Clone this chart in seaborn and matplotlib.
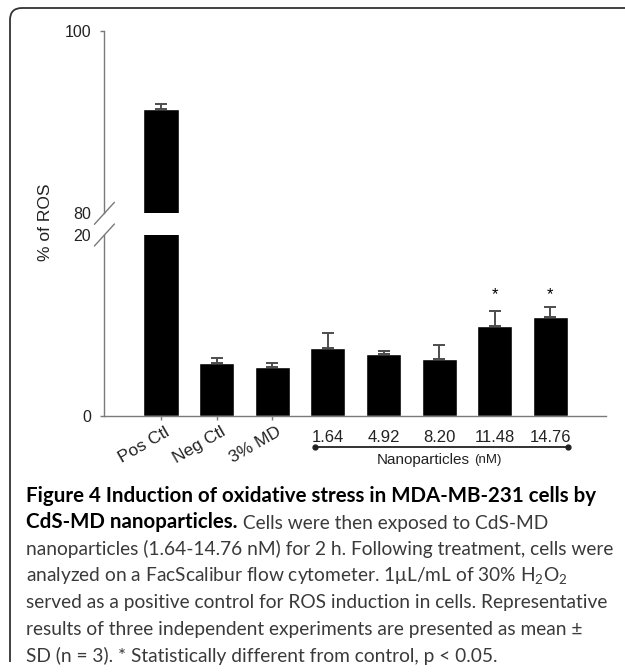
import matplotlib
matplotlib.use('Agg')
import numpy as np
import pandas as pd
import matplotlib.pyplot as plt
import matplotlib.transforms as mtrans
from matplotlib.lines import Line2D
from matplotlib.path import Path
from matplotlib.patches import PathPatch
from matplotlib.text import Annotation
import seaborn as sns

# data
groups = ['Pos Ctl', 'Neg Ctl', '3% MD', '1.64', '4.92', '8.20', '11.48', '14.76']
ros_mean = [91.4, 5.82, 5.38, 7.48, 6.85, 6.33, 9.94, 10.9]
ros_sd = [0.55, 0.55, 0.51, 1.65, 0.37, 1.55, 1.7, 1.1]
significant = ['11.48', '14.76']
nano_groups = ['1.64', '4.92', '8.20', '11.48', '14.76']

sns.set_theme(style='white')
plt.rcParams['font.family'] = ['Liberation Sans', 'DejaVu Sans']
plt.rcParams['mathtext.fontset'] = 'custom'
plt.rcParams['mathtext.rm'] = 'Lato'

W, H = 625, 672
fig = plt.figure(figsize=(W / 100, H / 100), dpi=100)
fig.patch.set_facecolor('white')


def px_rect(x0, ytop, x1, ybot):
    # pixel box -> figure fraction [left, bottom, width, height]
    return [x0 / W, 1 - ybot / H, (x1 - x0) / W, (ybot - ytop) / H]


def px(x, y):
    return (x / W, 1 - y / H)


ax_top = fig.add_axes(px_rect(104.4, 30.7, 606, 213.3))
ax_bot = fig.add_axes(px_rect(104.4, 235, 606, 416))

df = pd.DataFrame({'group': groups, 'ros': ros_mean, 'sd': ros_sd})
xpos = np.arange(len(groups))
axis_col = '#7a7a7a'
txt_col = '#222222'

for ax in (ax_top, ax_bot):
    sns.barplot(data=df, x='group', y='ros', order=groups, color='black',
                width=0.63, errorbar=None, saturation=1, ax=ax)
    ax.errorbar(xpos, df['ros'], yerr=[np.zeros(len(groups)), df['sd']],
                fmt='none', ecolor='#4d4d4d', elinewidth=1.4, capsize=4, capthick=1.4)
    ax.set_xlim(-1.017, 7.998)
    ax.set_xlabel('')
    ax.set_ylabel('')
    ax.set_facecolor('none')
    for s in ['top', 'right']:
        ax.spines[s].set_visible(False)
    ax.spines['left'].set_color(axis_col)
    ax.spines['left'].set_linewidth(1.0)
    ax.tick_params(axis='y', left=True, length=3, width=1.0, color=axis_col,
                   pad=6.5, labelsize=11.5, labelcolor=txt_col)

# upper part of the broken axis
ax_top.set_ylim(80, 100)
ax_top.set_yticks([80, 100])
ax_top.spines['bottom'].set_visible(False)
ax_top.tick_params(axis='x', bottom=False, labelbottom=False)
ax_top.yaxis.get_major_ticks()[0].tick1line.set_visible(False)

# lower part
ax_bot.set_ylim(0, 20)
ax_bot.set_yticks([0, 20])
ax_bot.yaxis.get_major_ticks()[1].tick1line.set_visible(False)
ax_bot.spines['bottom'].set_color(axis_col)
ax_bot.spines['bottom'].set_linewidth(1.0)
ax_bot.set_xticks(xpos)
ax_bot.set_xticklabels(groups)
ax_bot.tick_params(axis='x', bottom=True, length=3, width=1.0, color=axis_col,
                   pad=3, labelsize=12, labelcolor=txt_col)
for tick, lab in zip(ax_bot.xaxis.get_major_ticks(), ax_bot.get_xticklabels()):
    if lab.get_text() in nano_groups:
        tick.tick1line.set_visible(False)
        lab.set_transform(lab.get_transform() +
                          mtrans.ScaledTranslation(0, -6 / 100, fig.dpi_scale_trans))
    else:
        lab.set_fontsize(12.5)
        lab.set_rotation(30)
        lab.set_ha('right')
        lab.set_va('top')
        lab.set_rotation_mode('anchor')
        lab.set_transform(lab.get_transform() +
                          mtrans.ScaledTranslation(4 / 100, 0, fig.dpi_scale_trans))

# significance marks
for g in significant:
    i = groups.index(g)
    ax_bot.text(i, 13.4, '*', ha='center', va='center', fontsize=12, color='black')

# axis break slashes
for yb in (213.3, 235):
    fig.add_artist(Line2D([px(94.4, yb + 11)[0], px(114.4, yb - 11)[0]],
                          [px(94.4, yb + 11)[1], px(114.4, yb - 11)[1]],
                          color=axis_col, lw=1.0))

# nanoparticle bracket
ytr = ax_bot.get_xaxis_transform()
ax_bot.plot([2.77, 7.31], [-0.172, -0.172], transform=ytr, clip_on=False,
            color='#222222', lw=1.3, marker='o', markersize=3.5)
ax_bot.text(5.554, -0.245, 'Nanoparticles', transform=ytr, ha='right', va='center',
            fontsize=11, color=txt_col)
ax_bot.text(5.62, -0.245, '(nM)', transform=ytr, ha='left', va='center',
            fontsize=9.5, color=txt_col)

fig.text(*px(45, 222), '% of ROS', rotation=90, ha='center', va='center',
         fontsize=12.5, color=txt_col)

# frame around the figure panel
verts = [px(10, 662), px(10, 20), px(10, 8), px(22, 8), px(626, 8)]
codes = [Path.MOVETO, Path.LINETO, Path.CURVE3, Path.CURVE3, Path.LINETO]
fig.add_artist(PathPatch(Path(verts, codes), transform=fig.transFigure,
                         fill=False, edgecolor='#333333', lw=1.3))

# caption
reg_size = 13.8
bold_size = 14.8
cap_col = '#3a3a3a'
x0 = 26
base = 501.5
step = 26.7
fig.text(*px(x0, base), 'Figure 4 Induction of oxidative stress in MDA-MB-231 cells by',
         family='Lato', weight='bold', fontsize=bold_size, color='black', va='baseline')
t_bold = fig.text(*px(x0, base + step), 'CdS-MD nanoparticles.', family='Lato',
                  weight='bold', fontsize=bold_size, color='black', va='baseline')
ann = Annotation(' Cells were then exposed to CdS-MD', xy=(1, 0), xycoords=t_bold,
                 ha='left', va='bottom', family='Lato', fontsize=reg_size, color=cap_col)
fig.add_artist(ann)
rest = [
    'nanoparticles (1.64-14.76 nM) for 2 h. Following treatment, cells were',
    'analyzed on a FacScalibur flow cytometer. 1\u03bcL/mL of 30% H$_\\mathregular{2}$O$_\\mathregular{2}$',
    'served as a positive control for ROS induction in cells. Representative',
    'results of three independent experiments are presented as mean \u00b1',
    'SD (n = 3). * Statistically different from control, p < 0.05.',
]
for k, line in enumerate(rest):
    fig.text(*px(x0, base + step * (k + 2)), line, family='Lato', fontsize=reg_size,
             color=cap_col, va='baseline')

fig.savefig('out.png', dpi=100)
